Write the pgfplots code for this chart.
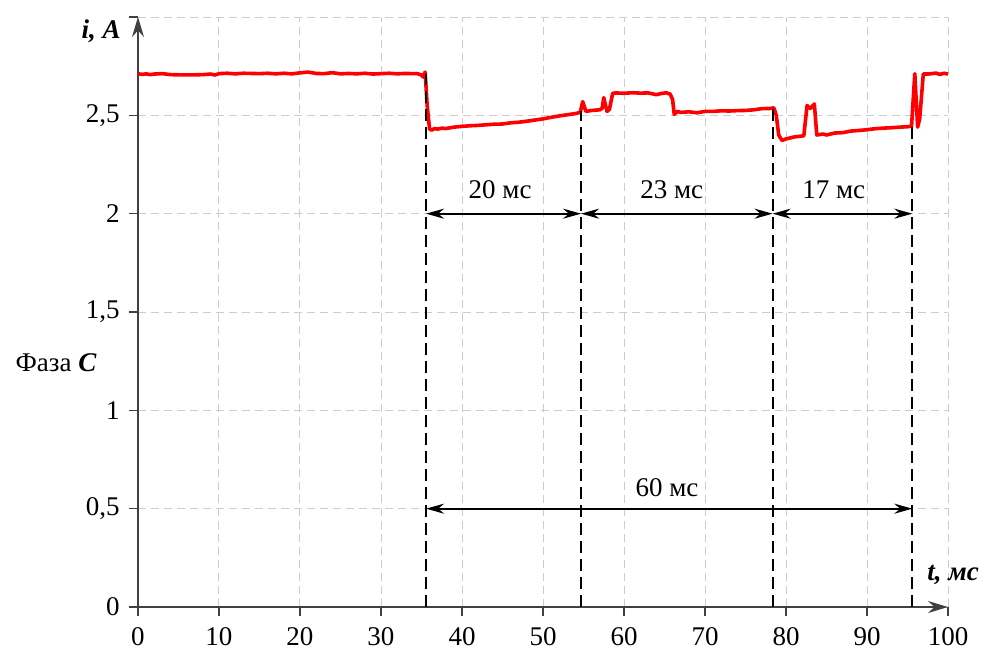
\documentclass[border=0pt]{standalone}
\usepackage{fontspec}
\setmainfont{Liberation Serif}
\usepackage{pgfplots}
\pgfplotsset{compat=1.18}
\usetikzlibrary{arrows.meta}
\begin{document}
\fontsize{13.5}{15}\selectfont
\begin{tikzpicture}
\path[use as bounding box] (-69pt,-24pt) rectangle (426pt,303.5pt);
\begin{axis}[
  anchor=origin, at={(0,0)},
  width=405pt, height=295pt, scale only axis,
  xmin=0, xmax=100, ymin=0, ymax=3,
  axis lines=left,
  axis line style={draw=black!75, line width=0.8pt, -{Stealth[length=10pt,width=6pt]}},
  xtick={0,10,...,100},
  ytick={0,0.5,1,1.5,2,2.5},
  extra y ticks={3}, extra y tick labels={},
  tick align=outside,
  major tick length=4.5pt,
  tick style={draw=black!75, line width=0.7pt},
  grid=major,
  major grid style={draw=black!20, line width=0.5pt, dash pattern=on 4pt off 2.5pt},
  /pgf/number format/use comma,
  /pgf/number format/assume math mode=true,
  ticklabel style={font=\fontsize{13.5}{15}\selectfont},
  xticklabel style={yshift=-1pt},
  clip=false,
]
\addplot[red, line width=1.8pt, line join=round] coordinates {
(0,2.712) (0.5,2.708) (1,2.711) (1.5,2.707) (2,2.710) (3,2.712) (4,2.707) (5,2.706) (6,2.706) (7,2.706) (8,2.707) (9,2.710) (9.5,2.705) (10,2.712)
(11,2.714) (12,2.711) (13,2.714) (14,2.713) (15,2.712) (16,2.714) (17,2.711) (18,2.714) (19,2.711) (20,2.716) (21,2.720) (22,2.713) (23,2.712)
(24,2.717) (25,2.711) (26,2.713) (27,2.711) (28,2.714) (29,2.710) (30,2.712) (31,2.714) (32,2.711) (33,2.713) (34,2.712) (34.5,2.712) (35.0,2.705)
(35.2,2.695) (35.45,2.72) (35.7,2.55) (36.0,2.43) (36.3,2.425) (36.6,2.433) (37,2.43) (37.5,2.435) (38,2.433) (39,2.44) (40,2.444) (41,2.447)
(42,2.449) (43,2.452) (44,2.455) (45,2.456) (46,2.462) (47,2.465) (48,2.470) (49,2.476) (50,2.482) (51,2.490) (52,2.497) (53,2.503) (54,2.509)
(54.6,2.515) (54.9,2.57) (55.3,2.52) (56,2.525) (57,2.528) (57.3,2.535) (57.5,2.59) (57.9,2.52) (58.2,2.53) (58.6,2.612) (59,2.614) (60,2.612)
(61,2.615) (62,2.613) (63,2.614) (64,2.605) (64.5,2.61) (65.2,2.615) (65.7,2.608) (66.0,2.58) (66.2,2.505) (66.6,2.52) (67,2.515) (68,2.518)
(69,2.513) (70,2.52) (71,2.52) (72,2.523) (73,2.522) (74,2.524) (75,2.525) (76,2.528) (77,2.534) (78,2.535) (78.5,2.538) (78.8,2.50) (79.1,2.40)
(79.5,2.372) (80,2.38) (81,2.39) (82.2,2.396) (82.6,2.55) (83.0,2.535) (83.5,2.558) (83.8,2.40) (84.6,2.405) (85,2.40) (86,2.41) (87,2.412)
(88,2.42) (89,2.423) (90,2.427) (91,2.432) (92,2.435) (93,2.437) (94,2.44) (95,2.442) (95.5,2.445) (95.9,2.712) (96.25,2.44) (96.5,2.48)
(96.95,2.71) (97.5,2.71) (98,2.712) (98.5,2.715) (99,2.708) (99.5,2.714) (100,2.71)
};
% dashed verticals
\draw[black, line width=1pt, dash pattern=on 6pt off 3pt] (axis cs:35.56,0) -- (axis cs:35.56,2.71);
\draw[black, line width=1pt, dash pattern=on 6pt off 3pt] (axis cs:54.7,0) -- (axis cs:54.7,2.52);
\draw[black, line width=1pt, dash pattern=on 6pt off 3pt] (axis cs:78.35,0) -- (axis cs:78.35,2.54);
\draw[black, line width=1pt, dash pattern=on 6pt off 3pt] (axis cs:95.6,0) -- (axis cs:95.6,2.44);
% dimension arrows
\draw[black, line width=1pt, {Stealth[length=9pt,width=5pt]}-{Stealth[length=9pt,width=5pt]}] (axis cs:35.56,2) -- (axis cs:54.7,2);
\draw[black, line width=1pt, {Stealth[length=9pt,width=5pt]}-{Stealth[length=9pt,width=5pt]}] (axis cs:54.7,2) -- (axis cs:78.35,2);
\draw[black, line width=1pt, {Stealth[length=9pt,width=5pt]}-{Stealth[length=9pt,width=5pt]}] (axis cs:78.35,2) -- (axis cs:95.6,2);
\draw[black, line width=1pt, {Stealth[length=9pt,width=5pt]}-{Stealth[length=9pt,width=5pt]}] (axis cs:35.56,0.5) -- (axis cs:95.6,0.5);
\node at (axis cs:44.7,2.12) {20 мс};
\node at (axis cs:65.9,2.12) {23 мс};
\node at (axis cs:85.9,2.12) {17 мс};
\node at (axis cs:65.3,0.605) {60 мс};
\node[anchor=east, inner sep=0pt] at (axis cs:-2.1,2.93) {\bfseries\itshape i, A};
\node[anchor=west, inner sep=0pt] at (axis cs:97.4,0.165) {\bfseries\itshape t, мс};
\node[anchor=east, inner sep=0pt] at (axis cs:-5.06,1.24) {Фаза \textbf{\textit{C}}};
\end{axis}
\end{tikzpicture}
\end{document}
